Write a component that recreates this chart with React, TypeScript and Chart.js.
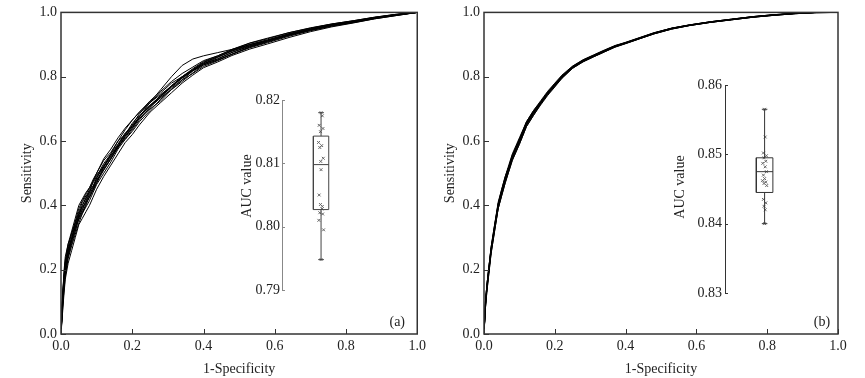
import React, { useEffect, useRef } from 'react';
import { Chart, registerables } from 'chart.js';

Chart.register(...registerables);

// ---------- data ----------
const FPR = [0, 0.004, 0.008, 0.012, 0.02, 0.03, 0.04, 0.05, 0.06, 0.07, 0.08, 0.09, 0.1, 0.12, 0.14, 0.16, 0.18, 0.2, 0.22, 0.25, 0.28, 0.31, 0.34, 0.37, 0.4, 0.44, 0.48, 0.53, 0.58, 0.64, 0.7, 0.76, 0.82, 0.88, 0.94, 1.0];

const ROC_A1 = [0, 0.11, 0.18, 0.23, 0.28, 0.32, 0.36, 0.40, 0.42, 0.44, 0.455, 0.475, 0.50, 0.545, 0.575, 0.61, 0.64, 0.665, 0.69, 0.725, 0.755, 0.785, 0.81, 0.83, 0.85, 0.865, 0.885, 0.905, 0.92, 0.937, 0.952, 0.964, 0.974, 0.985, 0.994, 1];
const ROC_A2 = [0, 0.06, 0.12, 0.17, 0.22, 0.26, 0.30, 0.34, 0.36, 0.38, 0.40, 0.425, 0.45, 0.49, 0.525, 0.56, 0.595, 0.62, 0.65, 0.69, 0.72, 0.75, 0.78, 0.805, 0.828, 0.846, 0.866, 0.886, 0.902, 0.922, 0.94, 0.955, 0.967, 0.98, 0.99, 1];
const ROC_A3 = [0, 0.09, 0.15, 0.20, 0.25, 0.29, 0.32, 0.36, 0.38, 0.40, 0.43, 0.45, 0.47, 0.51, 0.545, 0.58, 0.615, 0.64, 0.675, 0.72, 0.76, 0.80, 0.835, 0.855, 0.865, 0.875, 0.885, 0.90, 0.912, 0.93, 0.946, 0.96, 0.97, 0.982, 0.992, 1];
const ROC_A4 = [0, 0.10, 0.19, 0.24, 0.28, 0.31, 0.35, 0.39, 0.415, 0.435, 0.455, 0.48, 0.50, 0.54, 0.565, 0.60, 0.635, 0.665, 0.69, 0.72, 0.75, 0.78, 0.80, 0.825, 0.847, 0.865, 0.884, 0.904, 0.918, 0.937, 0.951, 0.964, 0.974, 0.985, 0.994, 1];
const ROC_A5 = [0, 0.07, 0.13, 0.18, 0.235, 0.275, 0.31, 0.345, 0.375, 0.395, 0.415, 0.44, 0.465, 0.50, 0.535, 0.575, 0.605, 0.63, 0.66, 0.695, 0.73, 0.765, 0.79, 0.81, 0.832, 0.85, 0.87, 0.89, 0.906, 0.926, 0.943, 0.957, 0.968, 0.98, 0.99, 1];
const ROC_A6 = [0, 0.12, 0.17, 0.20, 0.26, 0.30, 0.33, 0.37, 0.40, 0.42, 0.445, 0.46, 0.485, 0.525, 0.555, 0.585, 0.62, 0.655, 0.68, 0.71, 0.735, 0.77, 0.80, 0.82, 0.84, 0.86, 0.88, 0.897, 0.912, 0.932, 0.948, 0.962, 0.972, 0.983, 0.993, 1];
const ROC_A7 = [0, 0.08, 0.14, 0.19, 0.245, 0.29, 0.335, 0.355, 0.375, 0.405, 0.425, 0.445, 0.47, 0.52, 0.555, 0.58, 0.61, 0.64, 0.67, 0.70, 0.725, 0.76, 0.79, 0.818, 0.836, 0.852, 0.87, 0.893, 0.91, 0.93, 0.946, 0.96, 0.971, 0.983, 0.992, 1];
const ROC_A8 = [0, 0.10, 0.16, 0.22, 0.27, 0.315, 0.345, 0.38, 0.41, 0.43, 0.44, 0.475, 0.495, 0.52, 0.56, 0.60, 0.62, 0.65, 0.685, 0.72, 0.745, 0.77, 0.797, 0.822, 0.843, 0.862, 0.882, 0.90, 0.915, 0.933, 0.948, 0.962, 0.972, 0.984, 0.993, 1];
const ROC_A9 = [0, 0.08, 0.15, 0.185, 0.24, 0.28, 0.32, 0.36, 0.39, 0.41, 0.425, 0.45, 0.48, 0.51, 0.545, 0.585, 0.605, 0.635, 0.665, 0.705, 0.735, 0.76, 0.785, 0.812, 0.837, 0.852, 0.87, 0.892, 0.908, 0.928, 0.944, 0.958, 0.969, 0.981, 0.991, 1];
const ROC_A10 = [0, 0.09, 0.16, 0.21, 0.25, 0.295, 0.33, 0.37, 0.395, 0.41, 0.435, 0.455, 0.485, 0.52, 0.55, 0.59, 0.625, 0.645, 0.675, 0.71, 0.742, 0.772, 0.797, 0.82, 0.84, 0.856, 0.876, 0.896, 0.912, 0.931, 0.947, 0.961, 0.971, 0.983, 0.992, 1];
const ROC_A11 = [0, 0.09, 0.15, 0.20, 0.255, 0.295, 0.34, 0.365, 0.385, 0.415, 0.44, 0.46, 0.475, 0.515, 0.545, 0.58, 0.615, 0.645, 0.67, 0.705, 0.74, 0.768, 0.795, 0.818, 0.84, 0.855, 0.875, 0.895, 0.91, 0.93, 0.946, 0.96, 0.97, 0.982, 0.992, 1];
const ROC_A12 = [0, 0.10, 0.17, 0.22, 0.265, 0.30, 0.345, 0.375, 0.40, 0.425, 0.45, 0.47, 0.49, 0.53, 0.56, 0.59, 0.62, 0.648, 0.675, 0.712, 0.74, 0.772, 0.80, 0.822, 0.845, 0.862, 0.88, 0.90, 0.914, 0.934, 0.95, 0.963, 0.973, 0.984, 0.993, 1];

const ROC_B1 = [0, 0.10, 0.15, 0.19, 0.27, 0.34, 0.41, 0.45, 0.49, 0.525, 0.56, 0.585, 0.61, 0.66, 0.695, 0.725, 0.755, 0.78, 0.805, 0.833, 0.853, 0.868, 0.883, 0.897, 0.907, 0.922, 0.937, 0.951, 0.961, 0.971, 0.979, 0.987, 0.993, 0.997, 1, 1];
const ROC_B2 = [0, 0.08, 0.13, 0.17, 0.25, 0.32, 0.39, 0.43, 0.47, 0.505, 0.54, 0.565, 0.59, 0.645, 0.68, 0.715, 0.745, 0.77, 0.795, 0.826, 0.847, 0.862, 0.877, 0.892, 0.903, 0.918, 0.933, 0.948, 0.959, 0.969, 0.977, 0.985, 0.991, 0.996, 0.999, 1];
const ROC_B3 = [0, 0.09, 0.14, 0.18, 0.26, 0.335, 0.40, 0.445, 0.485, 0.52, 0.55, 0.58, 0.605, 0.655, 0.69, 0.72, 0.75, 0.776, 0.80, 0.83, 0.85, 0.866, 0.88, 0.895, 0.905, 0.92, 0.935, 0.95, 0.96, 0.97, 0.978, 0.986, 0.992, 0.997, 1, 1];
const ROC_B4 = [0, 0.09, 0.15, 0.19, 0.265, 0.33, 0.395, 0.44, 0.48, 0.51, 0.545, 0.57, 0.595, 0.65, 0.685, 0.718, 0.748, 0.773, 0.798, 0.828, 0.848, 0.864, 0.879, 0.894, 0.904, 0.919, 0.934, 0.949, 0.96, 0.97, 0.978, 0.986, 0.992, 0.997, 1, 1];
const ROC_B5 = [0, 0.10, 0.15, 0.19, 0.27, 0.34, 0.405, 0.45, 0.49, 0.52, 0.555, 0.58, 0.605, 0.66, 0.695, 0.722, 0.752, 0.778, 0.802, 0.832, 0.852, 0.867, 0.882, 0.896, 0.906, 0.921, 0.936, 0.951, 0.961, 0.971, 0.979, 0.987, 0.993, 0.997, 1, 1];
const ROC_B6 = [0, 0.08, 0.14, 0.18, 0.255, 0.325, 0.39, 0.435, 0.475, 0.51, 0.545, 0.57, 0.595, 0.65, 0.685, 0.715, 0.745, 0.772, 0.797, 0.828, 0.848, 0.863, 0.878, 0.893, 0.904, 0.919, 0.934, 0.949, 0.959, 0.969, 0.977, 0.985, 0.991, 0.996, 1, 1];
const ROC_B7 = [0, 0.09, 0.14, 0.18, 0.26, 0.33, 0.40, 0.44, 0.48, 0.515, 0.55, 0.575, 0.60, 0.655, 0.69, 0.72, 0.75, 0.775, 0.80, 0.83, 0.85, 0.865, 0.88, 0.895, 0.905, 0.92, 0.935, 0.95, 0.96, 0.97, 0.978, 0.986, 0.992, 0.997, 1, 1];
const ROC_B8 = [0, 0.10, 0.15, 0.19, 0.265, 0.335, 0.405, 0.445, 0.485, 0.52, 0.555, 0.58, 0.605, 0.658, 0.692, 0.722, 0.752, 0.777, 0.802, 0.831, 0.851, 0.866, 0.881, 0.896, 0.906, 0.921, 0.936, 0.951, 0.961, 0.971, 0.979, 0.987, 0.993, 0.997, 1, 1];
const ROC_B9 = [0, 0.08, 0.13, 0.17, 0.25, 0.32, 0.39, 0.43, 0.47, 0.505, 0.54, 0.565, 0.59, 0.645, 0.68, 0.712, 0.742, 0.768, 0.795, 0.826, 0.846, 0.862, 0.877, 0.892, 0.903, 0.918, 0.933, 0.948, 0.959, 0.969, 0.977, 0.985, 0.991, 0.996, 0.999, 1];
const ROC_B10 = [0, 0.09, 0.14, 0.18, 0.26, 0.33, 0.395, 0.44, 0.48, 0.515, 0.55, 0.575, 0.60, 0.652, 0.688, 0.718, 0.748, 0.774, 0.799, 0.829, 0.849, 0.864, 0.879, 0.894, 0.905, 0.92, 0.935, 0.95, 0.96, 0.97, 0.978, 0.986, 0.992, 0.997, 1, 1];

const ROC_A = [ROC_A1, ROC_A2, ROC_A3, ROC_A4, ROC_A5, ROC_A6, ROC_A7, ROC_A8, ROC_A9, ROC_A10, ROC_A11, ROC_A12];
const ROC_B = [ROC_B1, ROC_B2, ROC_B3, ROC_B4, ROC_B5, ROC_B6, ROC_B7, ROC_B8, ROC_B9, ROC_B10];

const MAIN_TICKS = [0, 0.2, 0.4, 0.6, 0.8, 1.0];

// box stats: min, q1, median, q3, max
const AUC_A_STATS = [0.7948, 0.8027, 0.8098, 0.8143, 0.818];
const AUC_A_VALUES = [0.818, 0.8175, 0.816, 0.8155, 0.815, 0.8133, 0.8128, 0.8125, 0.8108, 0.8103, 0.809, 0.805, 0.8035, 0.8032, 0.8028, 0.8022, 0.802, 0.801, 0.7995, 0.7948];
const AUC_A_TICKS = [0.79, 0.80, 0.81, 0.82];

const AUC_B_STATS = [0.840, 0.8445, 0.8475, 0.8495, 0.8565];
const AUC_B_VALUES = [0.8565, 0.8525, 0.8502, 0.8498, 0.8495, 0.849, 0.8487, 0.8482, 0.8475, 0.847, 0.8465, 0.8462, 0.846, 0.8458, 0.8455, 0.8435, 0.843, 0.8425, 0.842, 0.840];
const AUC_B_TICKS = [0.83, 0.84, 0.85, 0.86];

// ---------- style / layout ----------
const FONT_FAMILY = '"Liberation Serif", "Times New Roman", Times, serif';
const TEXT = '#222';
const JITTER_A = [0, 0.02, -0.03, 0.03, -0.01, -0.04, 0.01, -0.02, 0.035, -0.005, 0, -0.03, -0.01, 0.02, 0.015, -0.02, 0.025, -0.035, 0.04, 0];
const JITTER_B = [0, 0.01, -0.02, 0.03, -0.01, 0.02, -0.03, 0.01, 0.03, -0.02, 0.0, -0.035, 0.02, -0.01, 0.035, -0.02, 0.02, -0.01, 0.01, 0];

const decoPlugin = {
  id: 'deco',
  afterDraw(chart: any, _a: any, o: any) {
    const { ctx, chartArea: a, scales } = chart;
    ctx.save();
    ctx.strokeStyle = o.color;
    ctx.lineWidth = o.lineWidth;
    if (o.frame) {
      ctx.strokeRect(a.left, a.top, a.right - a.left, a.bottom - a.top);
    }
    if (o.axisLine) {
      ctx.beginPath();
      ctx.moveTo(Math.round(a.left) + 0.5, a.top);
      ctx.lineTo(Math.round(a.left) + 0.5, a.bottom);
      ctx.stroke();
    }
    ctx.lineWidth = 1;
    if (o.xTicks && scales.x) {
      scales.x.ticks.forEach((t: any) => {
        const px = Math.round(scales.x.getPixelForValue(t.value)) + 0.5;
        ctx.beginPath();
        ctx.moveTo(px, a.bottom);
        ctx.lineTo(px, a.bottom - o.tickLen);
        ctx.stroke();
      });
    }
    if (o.yTicks && scales.y) {
      scales.y.ticks.forEach((t: any) => {
        const py = Math.round(scales.y.getPixelForValue(t.value)) + 0.5;
        ctx.beginPath();
        ctx.moveTo(a.left, py);
        ctx.lineTo(a.left + o.tickLen, py);
        ctx.stroke();
      });
    }
    ctx.fillStyle = TEXT;
    ctx.font = `14px ${FONT_FAMILY}`;
    if (o.label) {
      ctx.textAlign = 'center';
      ctx.textBaseline = 'middle';
      ctx.fillText(o.label, a.right - o.labelDx, a.bottom - o.labelDy);
    }
    if (o.title) {
      ctx.translate(a.left - o.titleDx, (a.top + a.bottom) / 2 + o.titleDy);
      ctx.rotate(-Math.PI / 2);
      ctx.textAlign = 'center';
      ctx.textBaseline = 'middle';
      ctx.fillText(o.title, 0, 0);
    }
    ctx.restore();
  },
};

const font = { family: FONT_FAMILY, size: 14 };

function rocConfig(curves: number[][], p: any): any {
  return {
    type: 'scatter',
    data: {
      datasets: curves.map((c) => ({
        data: FPR.map((x, i) => ({ x, y: c[i] })),
        showLine: true,
        borderColor: '#000',
        borderWidth: 1,
        pointRadius: 0,
        fill: false,
        tension: 0,
      })),
    },
    options: {
      animation: false,
      responsive: false,
      maintainAspectRatio: false,
      events: [],
      layout: { padding: p.padding },
      plugins: {
        legend: { display: false },
        tooltip: { enabled: false },
        deco: { frame: true, color: '#333', lineWidth: 1.5, xTicks: true, yTicks: true, tickLen: 5, label: p.label, labelDx: p.labelDx, labelDy: 12 },
      },
      scales: {
        x: {
          type: 'linear', min: 0, max: 1,
          afterBuildTicks: (s: any) => { s.ticks = MAIN_TICKS.map((v) => ({ value: v })); },
          afterFit: (s: any) => { s.height = 44; },
          grid: { display: false, drawTicks: false },
          border: { display: false },
          ticks: { padding: 4, font, color: TEXT, maxRotation: 0, autoSkip: false, callback: (v: any) => Number(v).toFixed(1) },
          title: { display: true, text: '1-Specificity', font, color: TEXT, padding: { top: p.xTitlePad, bottom: 0 } },
        },
        y: {
          type: 'linear', min: 0, max: 1,
          afterBuildTicks: (s: any) => { s.ticks = MAIN_TICKS.map((v) => ({ value: v })); },
          afterFit: (s: any) => { s.width = p.yWidth; },
          grid: { display: false, drawTicks: false },
          border: { display: false },
          ticks: { padding: 4, font, color: TEXT, autoSkip: false, callback: (v: any) => Number(v).toFixed(1) },
          title: { display: true, text: 'Sensitivity', font, color: TEXT, padding: { top: p.yTitlePad, bottom: 0 } },
        },
      },
    },
    plugins: [decoPlugin],
  };
}

function boxConfig(stats: number[], values: number[], jitter: number[], ticks: number[], p: any): any {
  const [mn, q1, md, q3, mx] = stats;
  const c = p.center, h = p.half, k = p.cap;
  const seg = (pts: any[], color: string) => ({
    data: pts, showLine: true, borderColor: color, borderWidth: 1, pointRadius: 0, fill: false, tension: 0,
  });
  return {
    type: 'scatter',
    data: {
      datasets: [
        seg([{ x: c, y: mn }, { x: c, y: q1 }], p.boxColor),
        seg([{ x: c, y: q3 }, { x: c, y: mx }], p.boxColor),
        seg([{ x: c - k, y: mn }, { x: c + k, y: mn }], p.boxColor),
        seg([{ x: c - k, y: mx }, { x: c + k, y: mx }], p.boxColor),
        seg([{ x: c - h, y: q1 }, { x: c + h, y: q1 }, { x: c + h, y: q3 }, { x: c - h, y: q3 }, { x: c - h, y: q1 }], p.boxColor),
        seg([{ x: c - h, y: md }, { x: c + h, y: md }], p.boxColor),
        {
          data: values.map((v, i) => ({ x: c + jitter[i], y: v })),
          showLine: false, pointStyle: 'crossRot', pointRadius: 2, borderColor: '#666', borderWidth: 1,
        },
      ],
    },
    options: {
      animation: false,
      responsive: false,
      maintainAspectRatio: false,
      events: [],
      layout: { padding: p.padding },
      plugins: {
        legend: { display: false },
        tooltip: { enabled: false },
        deco: { frame: false, axisLine: true, color: p.axisColor, lineWidth: 1, yTicks: true, tickLen: 3, title: 'AUC value', titleDx: p.titleDx, titleDy: p.titleDy },
      },
      scales: {
        x: { type: 'linear', display: false, min: 0, max: 1 },
        y: {
          type: 'linear', min: ticks[0], max: ticks[ticks.length - 1],
          afterBuildTicks: (s: any) => { s.ticks = ticks.map((v) => ({ value: v })); },
          afterFit: (s: any) => { s.width = p.yWidth; },
          grid: { display: false, drawTicks: false },
          border: { display: false },
          ticks: { padding: p.tickPad, font, color: TEXT, autoSkip: false, callback: (v: any) => Number(v).toFixed(2) },
        },
      },
    },
    plugins: [decoPlugin],
  };
}

function ChartCanvas({ config, left, top, width, height }: any) {
  const ref = useRef<HTMLCanvasElement | null>(null);
  useEffect(() => {
    if (!ref.current) return;
    const chart = new Chart(ref.current, config);
    return () => chart.destroy();
  }, [config]);
  return (
    <canvas
      ref={ref}
      width={width}
      height={height}
      style={{ position: 'absolute', left, top, width, height }}
    />
  );
}

const CONFIG_A = rocConfig(ROC_A, { padding: { left: 0, top: 12, right: 9, bottom: 0 }, yWidth: 61, xTitlePad: 3.6, yTitlePad: 18.6, label: '(a)', labelDx: 20 });
const CONFIG_B = rocConfig(ROC_B, { padding: { left: 0, top: 12, right: 27, bottom: 0 }, yWidth: 54, xTitlePad: 7.6, yTitlePad: 11.6, label: '(b)', labelDx: 16 });
const INSET_A = boxConfig(AUC_A_STATS, AUC_A_VALUES, JITTER_A, AUC_A_TICKS, {
  padding: { left: 0, top: 15, right: 0, bottom: 15 }, yWidth: 52, center: 0.62, half: 0.122, cap: 0.045,
  boxColor: '#444', axisColor: '#888', tickPad: 2, titleDx: 35, titleDy: -9,
});
const INSET_B = boxConfig(AUC_B_STATS, AUC_B_VALUES, JITTER_B, AUC_B_TICKS, {
  padding: { left: 0, top: 15, right: 0, bottom: 17 }, yWidth: 55, center: 0.66, half: 0.138, cap: 0.046,
  boxColor: '#333', axisColor: '#333', tickPad: 3, titleDx: 45, titleDy: -2,
});

export default function App() {
  return (
    <div style={{ position: 'fixed', left: 0, top: 0, width: 865, height: 378, background: '#fff', overflow: 'hidden' }}>
      <ChartCanvas config={CONFIG_A} left={0} top={0} width={430} height={378} />
      <ChartCanvas config={CONFIG_B} left={430} top={0} width={435} height={378} />
      <ChartCanvas config={INSET_A} left={230} top={85} width={120} height={220} />
      <ChartCanvas config={INSET_B} left={670} top={70} width={120} height={240} />
    </div>
  );
}
